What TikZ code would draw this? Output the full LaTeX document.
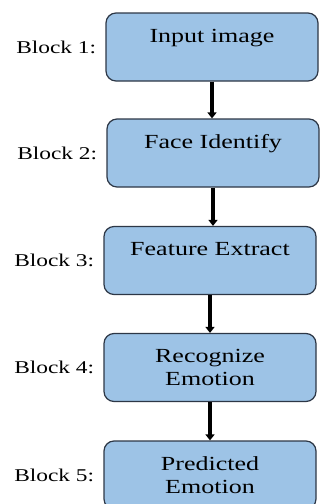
\documentclass[tikz,border=0pt]{standalone}
\usepackage{fontspec}
\usepackage{tikz}
\usetikzlibrary{arrows.meta,positioning}
\newfontfamily\blockfamily[FakeStretch=1.3]{Liberation Serif}
\definecolor{boxblue}{RGB}{157,195,230}
\definecolor{boxline}{RGB}{45,55,70}
\tikzstyle{block}=[rectangle, rounded corners=10pt, draw=boxline, fill=boxblue, line width=1.2pt, minimum width=212pt, minimum height=68pt, inner sep=0pt, align=center, font=\blockfamily\fontsize{20}{23}\selectfont]
\tikzstyle{blocklabel}=[inner sep=0pt, font=\blockfamily\fontsize{18}{20}\selectfont]
\tikzstyle{flow} = [draw, line width=3.2pt, -{Triangle[width=9pt,length=6pt]}]

\begin{document}
\begin{tikzpicture}[x=1pt, y=-1pt]

    \useasboundingbox (0,0) rectangle (320,504);

    % blocks, top to bottom
    \foreach \x/\y/\name/\txt in {212/47/b1/{Input image\\\mbox{}}, 213/153/b2/{Face Identify\\\mbox{}},
                                  210/260.5/b3/{Feature Extract\\\mbox{}}, 210/367.5/b4/{Recognize\\Emotion},
                                  210/475/b5/{Predicted\\Emotion}}
        \node[block] (\name) at (\x, \y) {\txt};

    % labels on the left
    \foreach \name/\num in {b1/1, b2/2, b3/3, b4/4, b5/5}
        \node[blocklabel, left=9pt of \name] (l\num) {Block \num:};

    % arrows between blocks
    \foreach \source/ \dest in {b1/b2, b2/b3, b3/b4, b4/b5}
        \path[flow] (\source.south) -- (\source.south |- \dest.north);

\end{tikzpicture}
\end{document}
